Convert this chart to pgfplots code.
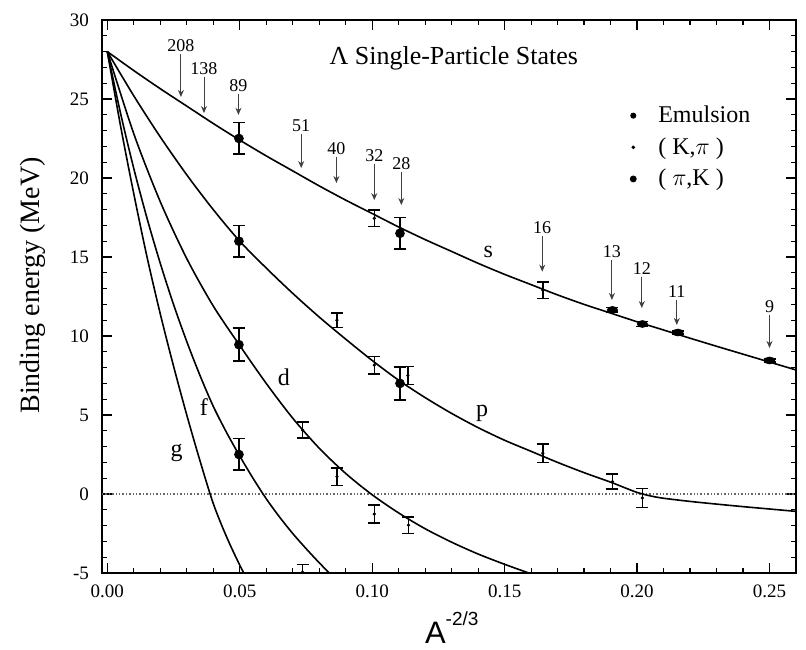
\documentclass[border=0pt]{standalone}
\usepackage{fontspec}
\setmainfont{Liberation Serif}
\newfontfamily\sansA{Liberation Sans}
\usepackage{pgfplots}
\usepackage{pgfplotstable}
\pgfplotsset{compat=1.18}
\usetikzlibrary{arrows.meta}

% fitted single-particle curves
\pgfplotstableread{
x y
0 28.0
0.01 26.8
0.02 25.65
0.03 24.55
0.04 23.45
0.05 22.4
0.06 21.4
0.07 20.45
0.08 19.5
0.09 18.6
0.10 17.75
0.11 16.9
0.12 16.1
0.13 15.35
0.14 14.6
0.15 13.9
0.16 13.25
0.17 12.6
0.18 12.0
0.19 11.45
0.20 10.9
0.21 10.38
0.22 9.86
0.23 9.35
0.24 8.85
0.25 8.35
0.26 7.85
}\curveS
\pgfplotstableread{
x y
0 28.0
0.01 25.2
0.02 22.6
0.03 20.2
0.04 18.0
0.05 16.0
0.06 14.3
0.07 12.7
0.08 11.2
0.09 9.8
0.10 8.45
0.11 7.2
0.12 6.1
0.13 5.1
0.14 4.2
0.15 3.4
0.16 2.7
0.17 2.0
0.18 1.35
0.19 0.75
0.195 0.42
0.20 0.1
0.205 -0.12
0.21 -0.27
0.22 -0.47
0.23 -0.64
0.24 -0.8
0.25 -0.95
0.26 -1.1
}\curveP
\pgfplotstableread{
x y
0 28.0
0.01 22.8
0.02 18.5
0.03 14.9
0.04 11.9
0.05 9.4
0.06 7.0
0.07 4.8
0.08 2.9
0.09 1.3
0.10 -0.05
0.11 -1.2
0.12 -2.2
0.13 -3.05
0.14 -3.8
0.15 -4.45
0.16 -5.05
0.17 -5.6
}\curveD
\pgfplotstableread{
x y
0 28
0.005 24.1
0.01 20.6
0.015 17.45
0.02 14.6
0.025 12.0
0.03 9.65
0.035 7.5
0.04 5.55
0.045 3.9
0.05 2.4
0.055 1.0
0.06 -0.3
0.065 -1.45
0.07 -2.5
0.075 -3.45
0.08 -4.35
0.085 -5.2
0.09 -6.0
}\curveF
\pgfplotstableread{
x y
0 28
0.005 23.3
0.01 19.0
0.015 15.0
0.02 11.4
0.025 8.1
0.03 5.0
0.035 2.1
0.04 -0.6
0.045 -2.7
0.05 -4.5
0.055 -6.1
}\curveG

% data points with errors
\pgfplotstableread{
x y e
0.1907 11.65 0.15
0.2020 10.76 0.15
0.2154 10.22 0.1
0.2500 8.45 0.1
}\emul
\pgfplotstableread{
x y e
0.1008 17.45 0.53
0.1644 12.9 0.53
0.0737 4.05 0.5
0.0867 11.0 0.45
0.1008 8.16 0.55
0.1135 7.5 0.58
0.1644 2.58 0.58
0.1907 0.78 0.47
0.2020 -0.25 0.6
0.0867 1.1 0.55
0.1008 -1.27 0.57
0.1137 -1.97 0.53
0.0737 -4.95 0.5
}\kpi
\pgfplotstableread{
x y e
0.0497 22.5 1.0
0.0497 16.0 1.0
0.0497 9.45 1.05
0.0497 2.5 1.0
0.1105 16.5 1.0
0.1105 7.0 1.05
}\pik

% mass-number arrows: start, length, label
\pgfplotstableread{
x y v lbl
0.0278 27.85 -2.72 208
0.0365 26.4 -2.29 138
0.0495 25.3 -1.3 89
0.0732 22.8 -2.17 51
0.0865 21.35 -1.67 40
0.1008 20.9 -2.3 32
0.1110 20.4 -2.11 28
0.1642 16.3 -2.23 16
0.1905 14.8 -2.52 13
0.2018 13.75 -1.98 12
0.2150 12.25 -1.55 11
0.2500 11.35 -2.11 9
}\arrowsA

\begin{document}
\begin{tikzpicture}
\begin{axis}[
  name=ax,
  scale only axis, width=347pt, height=276.5pt,
  xmin=-0.002, xmax=0.26, ymin=-5, ymax=30,
  xtick={0,0.05,0.1,0.15,0.2,0.25}, minor x tick num=4,
  ytick={-5,0,5,10,15,20,25,30}, minor y tick num=4,
  tick align=inside, major tick length=5pt, minor tick length=2.5pt,
  axis line style={line width=1pt},
  every tick/.style={black, line width=0.6pt},
  /pgf/number format/assume math mode=true,
  ticklabel style={font=\fontsize{9.5}{11}\selectfont},
  xticklabel style={yshift=-2.5pt, /pgf/number format/fixed, /pgf/number format/fixed zerofill, /pgf/number format/precision=2},
  yticklabel style={xshift=-3pt},
  xlabel={\sansA\fontsize{15.5}{18}\selectfont A\raisebox{1.05ex}{\fontsize{9.5}{11}\selectfont -2/3}},
  xlabel style={at={(axis description cs:0.504,-0.058)}, anchor=north},
  ylabel={Binding energy (MeV)},
  ylabel style={at={(axis description cs:-0.099,0.52)}, anchor=center, font=\fontsize{14}{16}\selectfont},
  legend style={draw=none, fill=none, at={(axis description cs:0.752,0.86)}, anchor=north west,
    font=\fontsize{12}{14}\selectfont, row sep=2pt},
  legend cell align=left,
  error bars/error mark=|,
  error bars/error bar style={line width=0.8pt},
  error bars/error mark options={line width=0.8pt, mark size=3pt},
]
\addplot[forget plot, densely dotted, black!60, line width=0.7pt] coordinates {(-0.002,0) (0.26,0)};

\addplot[forget plot, black, line width=0.8pt, smooth] table {\curveS};
\addplot[forget plot, black, line width=0.8pt, smooth] table {\curveP};
\addplot[forget plot, black, line width=0.8pt, smooth] table {\curveD};
\addplot[forget plot, black, line width=0.8pt, smooth] table {\curveF};
\addplot[forget plot, black, line width=0.8pt, smooth] table {\curveG};

\addplot[only marks, black, mark=*, mark size=1.7pt, mark options={xscale=1.5},
  legend image post style={mark size=1.3pt, mark options={xscale=1}},
  error bars/.cd, y dir=both, y explicit]
  table[x=x, y=y, y error=e] {\emul};
\addlegendentry{\hspace{9pt}Emulsion}
\addplot[only marks, black, mark=*, mark size=0.6pt,
  legend image post style={mark size=0.7pt},
  error bars/.cd, y dir=both, y explicit]
  table[x=x, y=y, y error=e] {\kpi};
\addlegendentry{\hspace{9pt}( K,$\pi$ )}
\addplot[only marks, black, mark=*, mark size=2.2pt,
  legend image post style={mark size=1.5pt},
  error bars/.cd, y dir=both, y explicit]
  table[x=x, y=y, y error=e] {\pik};
\addlegendentry{\hspace{9pt}( $\pi$,K )}

\addplot[forget plot, black!75, line width=0.45pt, -{Stealth[length=3.5pt, width=3pt]},
  quiver={u=0, v=\thisrow{v}},
  nodes near coords, point meta=explicit symbolic,
  nodes near coords style={anchor=south, black, inner sep=1pt, font=\fontsize{9}{10}\selectfont}]
  table[x=x, y=y, meta=lbl] {\arrowsA};

\node[font=\fontsize{13}{15}\selectfont] at (axis cs:0.1308,27.6) {Λ Single-Particle States};
\node[font=\fontsize{12}{14}\selectfont] at (axis cs:0.1438,15.3) {s};
\node[font=\fontsize{12}{14}\selectfont] at (axis cs:0.1415,5.1) {p};
\node[font=\fontsize{12}{14}\selectfont] at (axis cs:0.0667,7.4) {d};
\node[font=\fontsize{12}{14}\selectfont] at (axis cs:0.0365,5.5) {f};
\node[font=\fontsize{12}{14}\selectfont] at (axis cs:0.0262,2.6) {g};
\end{axis}
\path (ax.south west) ++(-51pt,-34pt);
\path (ax.north east) ++(5pt,10pt);
\end{tikzpicture}
\end{document}
